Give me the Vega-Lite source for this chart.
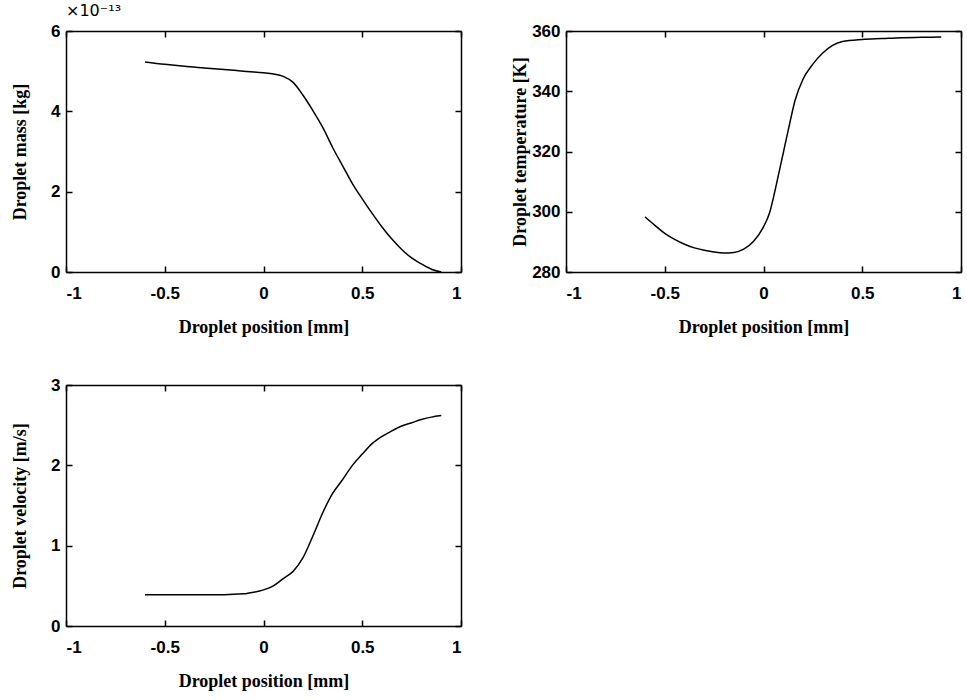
{
  "$schema": "https://vega.github.io/schema/vega-lite/v6.json",
  "background": "white",
  "padding": {"left": 11, "top": 3, "right": 4, "bottom": 4},
  "config": {
    "view": {"stroke": null},
    "font": "Liberation Sans",
    "axis": {
      "grid": false,
      "domainColor": "black",
      "domainWidth": 1.5,
      "tickColor": "black",
      "tickWidth": 1.5,
      "tickSize": -6,
      "labelFont": "Liberation Sans",
      "labelFontWeight": "bold",
      "labelFontSize": 17,
      "labelColor": "black",
      "titleFont": "Liberation Serif",
      "titleFontWeight": "bold",
      "titleFontSize": 18,
      "titleColor": "black"
    },
    "axisBottom": {"labelPadding": 19, "titlePadding": 14, "minExtent": 32, "maxExtent": 32},
    "axisLeft": {"labelPadding": 12, "titlePadding": 3, "minExtent": 34, "maxExtent": 34},
    "title": {"font": "DejaVu Sans", "fontSize": 16, "fontWeight": "normal", "color": "black"}
  },
  "datasets": {
    "mass": [
      {"position": -0.6, "mass": 5.23}, {"position": -0.5, "mass": 5.17}, {"position": -0.4, "mass": 5.12},
      {"position": -0.3, "mass": 5.08}, {"position": -0.2, "mass": 5.04}, {"position": -0.1, "mass": 5.0},
      {"position": 0.0, "mass": 4.96}, {"position": 0.05, "mass": 4.93}, {"position": 0.1, "mass": 4.87},
      {"position": 0.15, "mass": 4.72}, {"position": 0.2, "mass": 4.4}, {"position": 0.25, "mass": 4.02},
      {"position": 0.3, "mass": 3.6}, {"position": 0.35, "mass": 3.1}, {"position": 0.4, "mass": 2.65},
      {"position": 0.45, "mass": 2.2}, {"position": 0.5, "mass": 1.82}, {"position": 0.55, "mass": 1.46},
      {"position": 0.6, "mass": 1.12}, {"position": 0.65, "mass": 0.82}, {"position": 0.7, "mass": 0.56},
      {"position": 0.75, "mass": 0.35}, {"position": 0.8, "mass": 0.2}, {"position": 0.85, "mass": 0.07},
      {"position": 0.9, "mass": 0.0}
    ],
    "temp": [
      {"position": -0.6, "temperature": 298.3}, {"position": -0.55, "temperature": 295.5},
      {"position": -0.5, "temperature": 292.8}, {"position": -0.45, "temperature": 290.8},
      {"position": -0.4, "temperature": 289.2}, {"position": -0.35, "temperature": 288.0},
      {"position": -0.3, "temperature": 287.2}, {"position": -0.25, "temperature": 286.6},
      {"position": -0.2, "temperature": 286.3}, {"position": -0.15, "temperature": 286.5},
      {"position": -0.1, "temperature": 287.6}, {"position": -0.05, "temperature": 290.2},
      {"position": 0.0, "temperature": 295.0}, {"position": 0.03, "temperature": 299.5},
      {"position": 0.06, "temperature": 307.5}, {"position": 0.08, "temperature": 313.5},
      {"position": 0.1, "temperature": 319.5}, {"position": 0.13, "temperature": 328.5},
      {"position": 0.16, "temperature": 337.0}, {"position": 0.2, "temperature": 344.0},
      {"position": 0.25, "temperature": 349.0}, {"position": 0.3, "temperature": 352.7},
      {"position": 0.35, "temperature": 355.2}, {"position": 0.4, "temperature": 356.5},
      {"position": 0.5, "temperature": 357.2}, {"position": 0.6, "temperature": 357.5},
      {"position": 0.7, "temperature": 357.8}, {"position": 0.8, "temperature": 357.9},
      {"position": 0.9, "temperature": 358.0}
    ],
    "vel": [
      {"position": -0.6, "velocity": 0.39}, {"position": -0.5, "velocity": 0.39}, {"position": -0.4, "velocity": 0.39},
      {"position": -0.3, "velocity": 0.39}, {"position": -0.2, "velocity": 0.39}, {"position": -0.1, "velocity": 0.4},
      {"position": -0.05, "velocity": 0.42}, {"position": 0.0, "velocity": 0.45}, {"position": 0.05, "velocity": 0.5},
      {"position": 0.1, "velocity": 0.59}, {"position": 0.15, "velocity": 0.68}, {"position": 0.2, "velocity": 0.85},
      {"position": 0.25, "velocity": 1.12}, {"position": 0.3, "velocity": 1.41}, {"position": 0.35, "velocity": 1.65},
      {"position": 0.4, "velocity": 1.82}, {"position": 0.45, "velocity": 2.0}, {"position": 0.5, "velocity": 2.14},
      {"position": 0.55, "velocity": 2.27}, {"position": 0.6, "velocity": 2.36}, {"position": 0.65, "velocity": 2.43},
      {"position": 0.7, "velocity": 2.49}, {"position": 0.75, "velocity": 2.53}, {"position": 0.8, "velocity": 2.57},
      {"position": 0.85, "velocity": 2.6}, {"position": 0.9, "velocity": 2.62}
    ]
  },
  "columns": 2,
  "spacing": {"row": 113, "column": 105},
  "bounds": "flush",
  "concat": [
    {
      "width": 395, "height": 241,
      "data": {"name": "mass"},
      "title": {"text": "×10⁻¹³", "anchor": "start", "frame": "group", "offset": 3},
      "layer": [
        {
          "mark": {"type": "line", "color": "black", "strokeWidth": 1.5, "interpolate": "monotone"},
          "encoding": {
            "x": {"field": "position", "type": "quantitative", "scale": {"domain": [-1, 1], "nice": false},
                  "axis": {"values": [-1, -0.5, 0, 0.5, 1], "title": "Droplet position [mm]",
                           "labelExpr": "datum.value < 0 ? '-' + format(-datum.value, '~g') : format(datum.value, '~g')"}},
            "y": {"field": "mass", "type": "quantitative", "scale": {"domain": [0, 6], "nice": false, "zero": false},
                  "axis": {"values": [0, 2, 4, 6], "title": "Droplet mass [kg]"}}
          }
        },
        {
          "mark": {"type": "line", "opacity": 0},
          "encoding": {
            "x": {"field": "position", "type": "quantitative", "axis": {"orient": "top", "values": [-1, -0.5, 0, 0.5, 1], "labels": false, "title": null}},
            "y": {"field": "mass", "type": "quantitative", "axis": {"orient": "right", "values": [0, 2, 4, 6], "labels": false, "title": null}}
          }
        }
      ],
      "resolve": {"axis": {"x": "independent", "y": "independent"}}
    },
    {
      "width": 395, "height": 241,
      "data": {"name": "temp"},
      "layer": [
        {
          "mark": {"type": "line", "color": "black", "strokeWidth": 1.5, "interpolate": "monotone"},
          "encoding": {
            "x": {"field": "position", "type": "quantitative", "scale": {"domain": [-1, 1], "nice": false},
                  "axis": {"values": [-1, -0.5, 0, 0.5, 1], "title": "Droplet position [mm]",
                           "labelExpr": "datum.value < 0 ? '-' + format(-datum.value, '~g') : format(datum.value, '~g')"}},
            "y": {"field": "temperature", "type": "quantitative", "scale": {"domain": [280, 360], "nice": false, "zero": false},
                  "axis": {"values": [280, 300, 320, 340, 360], "title": "Droplet temperature [K]"}}
          }
        },
        {
          "mark": {"type": "line", "opacity": 0},
          "encoding": {
            "x": {"field": "position", "type": "quantitative", "axis": {"orient": "top", "values": [-1, -0.5, 0, 0.5, 1], "labels": false, "title": null}},
            "y": {"field": "temperature", "type": "quantitative", "axis": {"orient": "right", "values": [280, 300, 320, 340, 360], "labels": false, "title": null}}
          }
        }
      ],
      "resolve": {"axis": {"x": "independent", "y": "independent"}}
    },
    {
      "width": 395, "height": 241,
      "data": {"name": "vel"},
      "layer": [
        {
          "mark": {"type": "line", "color": "black", "strokeWidth": 1.5, "interpolate": "monotone"},
          "encoding": {
            "x": {"field": "position", "type": "quantitative", "scale": {"domain": [-1, 1], "nice": false},
                  "axis": {"values": [-1, -0.5, 0, 0.5, 1], "title": "Droplet position [mm]",
                           "labelExpr": "datum.value < 0 ? '-' + format(-datum.value, '~g') : format(datum.value, '~g')"}},
            "y": {"field": "velocity", "type": "quantitative", "scale": {"domain": [0, 3], "nice": false, "zero": false},
                  "axis": {"values": [0, 1, 2, 3], "title": "Droplet velocity [m/s]"}}
          }
        },
        {
          "mark": {"type": "line", "opacity": 0},
          "encoding": {
            "x": {"field": "position", "type": "quantitative", "axis": {"orient": "top", "values": [-1, -0.5, 0, 0.5, 1], "labels": false, "title": null}},
            "y": {"field": "velocity", "type": "quantitative", "axis": {"orient": "right", "values": [0, 1, 2, 3], "labels": false, "title": null}}
          }
        }
      ],
      "resolve": {"axis": {"x": "independent", "y": "independent"}}
    }
  ]
}
